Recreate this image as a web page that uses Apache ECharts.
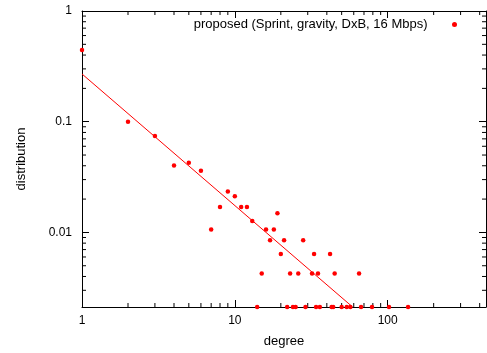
<!DOCTYPE html>
<html>
<head>
<meta charset="utf-8">
<script src="https://cdn.jsdelivr.net/npm/echarts@6/dist/echarts.min.js"></script>
<style>
html,body{margin:0;padding:0;background:#fff;}
#chart{width:487px;height:353px;}
</style>
</head>
<body>
<div id="chart"></div>
<script>
// ---- data ----
const seriesName = 'proposed (Sprint, gravity, DxB, 16 Mbps)';
const degrees = [1,2,3,4,5,6,7,8,9,10,11,12,13,14,15,16,17,18,19,20,21,22,23,24,25,26,28,29,32,33,34,35,36,42,43,44,45,50,54,57,65,67,79,102,136];
const distribution = [0.445,0.0998,0.0743,0.0403,0.0425,0.0361,0.0106,0.0170,0.0234,0.0212,0.0170,0.0170,0.0127,0.00212,0.00425,0.0106,0.00849,0.0106,0.0149,0.00637,0.00849,0.00212,0.00425,0.00212,0.00212,0.00425,0.00849,0.00212,0.00425,0.00637,0.00212,0.00425,0.00212,0.00637,0.00212,0.00212,0.00425,0.00212,0.00212,0.00212,0.00425,0.00212,0.00212,0.00212,0.00212];
const fitX = [1, 59];
const fitY = [0.27, 0.00212];
const xRange = [1, 440];
const yRange = [0.00212, 1];
const xMinorTicks = [2,3,4,5,6,7,8,9,20,30,40,50,60,70,80,90,200,300,400];
const yMinorTicks = [0.003,0.004,0.005,0.006,0.007,0.008,0.009,0.02,0.03,0.04,0.05,0.06,0.07,0.08,0.09,0.2,0.3,0.4,0.5,0.6,0.7,0.8,0.9];

const FONT = 'Liberation Sans, Arial, sans-serif';
const chart = echarts.init(document.getElementById('chart'), null, {renderer: 'canvas'});
const fmt = v => String(parseFloat(Number(v).toPrecision(3)));

const baseAxis = {
  type: 'log', logBase: 10,
  axisLine: {show: true, lineStyle: {color: '#000', width: 1}},
  axisTick: {show: true, inside: true, length: 7, lineStyle: {color: '#000'}},
  splitLine: {show: false},
  minorTick: {show: false},
  axisLabel: {color: '#000', fontFamily: FONT, fontSize: 12, formatter: fmt}
};

const minorTickSeries = (values, isX) => ({
  type: 'custom',
  silent: true,
  clip: false,
  legendHoverLink: false,
  xAxisIndex: 0, yAxisIndex: 0,
  data: values.map(v => isX ? [v, yRange[0]] : [xRange[0], v]),
  encode: {x: 0, y: 1},
  renderItem: (params, api) => {
    const v = api.value(isX ? 0 : 1);
    let a, b;
    if (isX) { a = api.coord([v, yRange[0]]); b = api.coord([v, yRange[1]]); }
    else { a = api.coord([xRange[0], v]); b = api.coord([xRange[1], v]); }
    const L = 4;
    const style = {stroke: '#000', lineWidth: 1};
    if (isX) {
      return {type: 'group', children: [
        {type: 'line', shape: {x1: a[0], y1: a[1], x2: a[0], y2: a[1] - L}, style},
        {type: 'line', shape: {x1: b[0], y1: b[1], x2: b[0], y2: b[1] + L}, style}
      ]};
    }
    return {type: 'group', children: [
      {type: 'line', shape: {x1: a[0], y1: a[1], x2: a[0] + L, y2: a[1]}, style},
      {type: 'line', shape: {x1: b[0], y1: b[1], x2: b[0] - L, y2: b[1]}, style}
    ]};
  }
});

chart.setOption({
  animation: false,
  backgroundColor: '#fff',
  textStyle: {fontFamily: FONT},
  grid: {left: 82, right: 1, top: 11, bottom: 45, show: false},
  legend: {
    data: [seriesName],
    right: 25, top: 13,
    align: 'right',
    itemWidth: 44, itemHeight: 5, itemGap: 0,
    icon: 'circle',
    itemStyle: {color: '#ff0000', opacity: 1},
    textStyle: {color: '#000', fontFamily: FONT, fontSize: 13},
    selectedMode: false
  },
  xAxis: [
    Object.assign({}, baseAxis, {
      min: xRange[0], max: xRange[1], position: 'bottom',
      name: 'degree', nameLocation: 'middle', nameGap: 28,
      nameTextStyle: {color: '#000', fontFamily: FONT, fontSize: 13},
      axisLabel: Object.assign({}, baseAxis.axisLabel, {margin: 8, showMaxLabel: false})
    }),
    Object.assign({}, baseAxis, {
      min: xRange[0], max: xRange[1], position: 'top',
      axisLabel: {show: false}
    })
  ],
  yAxis: [
    Object.assign({}, baseAxis, {
      min: yRange[0], max: yRange[1], position: 'left',
      name: 'distribution', nameLocation: 'middle', nameGap: 54,
      nameTextStyle: {color: '#000', fontFamily: FONT, fontSize: 13},
      axisLabel: Object.assign({}, baseAxis.axisLabel, {margin: 10, showMinLabel: false})
    }),
    Object.assign({}, baseAxis, {
      min: yRange[0], max: yRange[1], position: 'right',
      axisLabel: {show: false}
    })
  ],
  series: [
    minorTickSeries(xMinorTicks, true),
    minorTickSeries(yMinorTicks, false),
    {
      name: 'fit',
      type: 'line',
      data: fitX.map((x, i) => [x, fitY[i]]),
      showSymbol: false,
      symbol: 'none',
      lineStyle: {color: '#ff0000', width: 1},
      silent: true,
      z: 3
    },
    {
      name: seriesName,
      type: 'scatter',
      data: degrees.map((d, i) => [d, distribution[i]]),
      symbol: 'circle',
      symbolSize: 4.5,
      itemStyle: {color: '#ff0000', opacity: 1},
      z: 4
    }
  ]
});
</script>
</body>
</html>
